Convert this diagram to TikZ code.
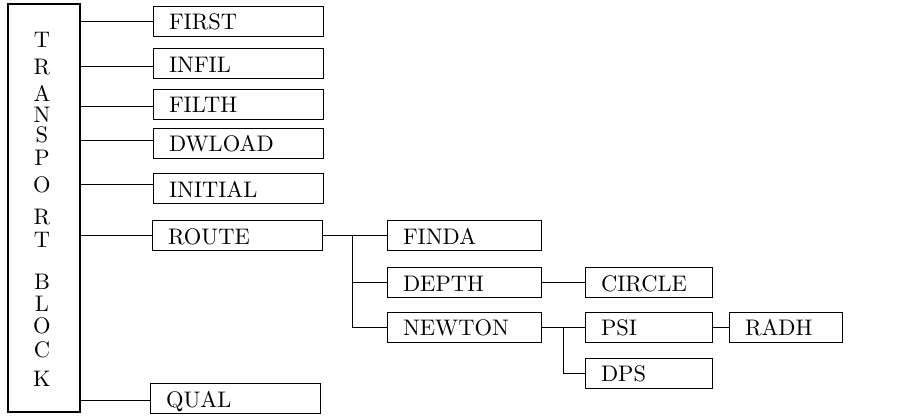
\documentclass[tikz,border=0pt]{standalone}
\usepackage{graphicx}
% labels are set at 10pt and enlarged, keeping the 10pt letter proportions
\newcommand\lbl[1]{\scalebox{2.25}{#1}}
\begin{document}
\begin{tikzpicture}[x=1pt, y=-1pt,
  blk/.style={draw, line width=1pt, rectangle, minimum height=30pt,
    inner xsep=16pt, inner ysep=0pt, align=left, text height=17pt, text depth=0pt},
  wA/.style={blk, text width=138pt},
  wB/.style={blk, text width=122pt},
  wC/.style={blk, text width=95pt},
  wD/.style={blk, text width=81pt},
  link/.style={line width=0.9pt},
  letter/.style={inner sep=0pt, text height=15pt, text depth=0pt}]
\useasboundingbox (0,0) rectangle (899,415);

% main block
\node[draw, line width=1.2pt, minimum width=72pt, minimum height=408pt, inner sep=0pt] (tb) at (44,208) {};
\foreach \ch/\yy [count=\i] in {T/39.5, R/67, A/94, N/114.5, S/135, P/157.5, O/185, R/217, T/239.5,
                                B/281.5, L/303.5, O/325.5, C/349.5, K/379}
  \node[letter] (l\i) at (42,\yy) {\lbl{\ch}};

% first level
\node[wA] (first)   at (238,21)    {\lbl{FIRST}};
\node[wA] (infil)   at (238,63.5)  {\lbl{INFIL}};
\node[wA] (filth)   at (238,104)   {\lbl{FILTH}};
\node[wA] (dwload)  at (238,143)   {\lbl{DWLOAD}};
\node[wA] (initial) at (238,188.5) {\lbl{INITIAL}};
\node[wA] (route)   at (237,235.5) {\lbl{ROUTE}};
\node[wA] (qual)    at (235,398.5) {\lbl{QUAL}};

% branches from the main block (some meet their box a little off centre)
\foreach \n/\dy in {first/0,infil/2.5,filth/2,dwload/-3,initial/-4.5,route/0,qual/1.5}
  \draw[link] ([yshift=-\dy pt]tb.east |- \n.west) -- ([yshift=-\dy pt]\n.west);

% second level
\node[wB] (finda)  at (464,235.5) {\lbl{FINDA}};
\node[wB] (depth)  at (464,282.5) {\lbl{DEPTH}};
\node[wB] (newton) at (464,327)   {\lbl{NEWTON}};

\coordinate (j1) at (352,235.5);
\draw[link] (route.east) -- (finda.west);
\draw[link] (j1) |- (depth.west);
\draw[link] (j1) |- (newton.west);

% third level
\node[wC] (circle) at (648.5,282.5) {\lbl{CIRCLE}};
\node[wC] (psi)    at (648.5,327)   {\lbl{PSI}};
\node[wC] (dps)    at (648.5,373)   {\lbl{DPS}};
\node[wD] (radh)   at (785.5,327)   {\lbl{RADH}};

\draw[link] (depth.east) -- (circle.west);
\coordinate (j2) at (563,327);
\draw[link] (newton.east) -- (psi.west);
\draw[link] (j2) |- (dps.west);
\draw[link] (psi.east) -- (radh.west);
\end{tikzpicture}
\end{document}
